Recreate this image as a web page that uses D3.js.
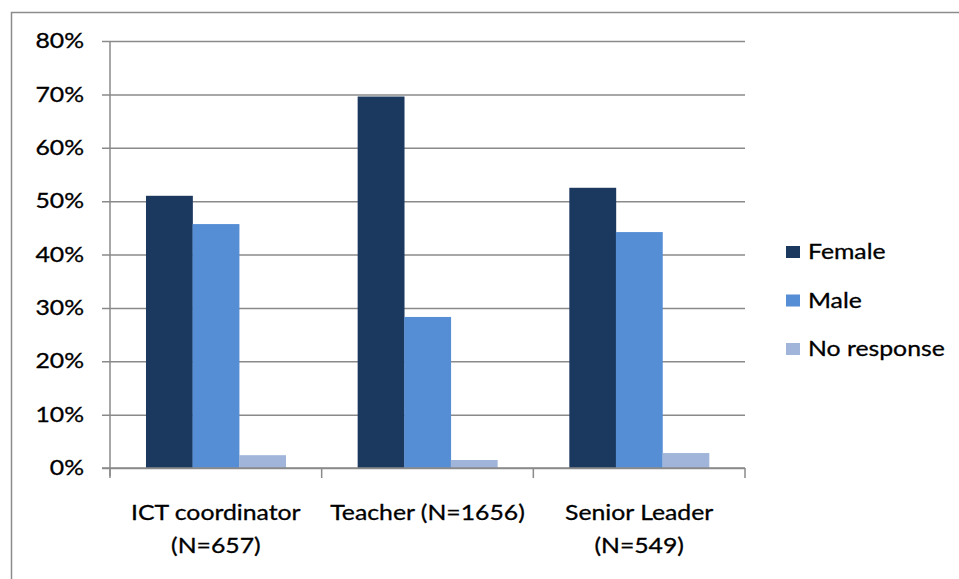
<!DOCTYPE html>
<html>
<head>
<meta charset="utf-8">
<script src="https://cdn.jsdelivr.net/npm/d3@7"></script>
<style>
  body { margin: 0; background: #fff; }
  svg text { font-family: Lato, 'Open Sans', sans-serif; fill: #000; stroke: #000; stroke-width: 0.3; }
</style>
</head>
<body>
<div id="chart"></div>
<script>
// data
const categories = [['ICT coordinator', '(N=657)'], ['Teacher (N=1656)'], ['Senior Leader', '(N=549)']]
const seriesNames = ['Female', 'Male', 'No response']
const female = [51.0, 69.6, 52.5]
const male = [45.7, 28.3, 44.2]
const noResponse = [2.4, 1.5, 2.8]
const yTicks = [0, 10, 20, 30, 40, 50, 60, 70, 80]
const colors = ['#1b385f', '#558ed5', '#a0b5d9']

const width = 959
const height = 579
const margin = { left: 110, right: 214, top: 41, bottom: 111 }
const stretch = 1.18 // the source picture is wider than tall text

const svg = d3.select('#chart')
  .append('svg')
  .attr('width', width)
  .attr('height', height)

// outer frame
svg.append('rect')
  .attr('x', 11.5)
  .attr('y', 12.5)
  .attr('width', 960)
  .attr('height', 600)
  .attr('fill', 'none')
  .attr('stroke', '#8c8c8c')
  .attr('stroke-width', 1.5)

const x0 = d3.scaleBand()
  .domain(d3.range(categories.length))
  .range([margin.left, width - margin.right])
  .paddingInner(0.34)
  .paddingOuter(0.17)

const x1 = d3.scaleBand()
  .domain(d3.range(seriesNames.length))
  .range([0, x0.bandwidth()])

const y = d3.scaleLinear()
  .domain([0, 80])
  .range([height - margin.bottom, margin.top])

// gridlines + y ticks
const grid = svg.append('g')
  .attr('transform', `translate(${margin.left},0)`)
  .call(d3.axisLeft(y).tickValues(yTicks).tickFormat(d => d + '%')
    .tickSize(-(width - margin.right - margin.left)).tickPadding(26))
grid.select('.domain').remove()
grid.selectAll('.tick line')
  .attr('stroke', '#8a8a8a')
  .attr('stroke-width', 1.5)
  .attr('x1', -8)
grid.selectAll('.tick text')
  .attr('font-size', 21)
  .attr('fill', '#000')
  .attr('x', -26 / stretch)
  .attr('transform', `scale(${stretch},1)`)

const table = categories.map((c, i) => [female[i], male[i], noResponse[i]])

svg.append('g')
  .selectAll('g')
  .data(table)
  .enter()
  .append('g')
  .attr('transform', (d, i) => `translate(${x0(i)},0)`)
  .selectAll('rect')
  .data(d => d)
  .enter()
  .append('rect')
  .attr('x', (d, j) => x1(j))
  .attr('width', x1.bandwidth() + 0.3)
  .attr('y', d => y(d))
  .attr('height', d => y(0) - y(d))
  .attr('fill', (d, j) => colors[j])

// y axis line
svg.append('line')
  .attr('x1', margin.left).attr('x2', margin.left)
  .attr('y1', y(80)).attr('y2', y(0) + 8)
  .attr('stroke', '#8a8a8a')
  .attr('stroke-width', 1.5)

// x axis with category ticks at band boundaries
const step = (width - margin.right - margin.left) / categories.length
const xAxis = svg.append('g')
svg.append('line')
  .attr('x1', margin.left - 8).attr('x2', width - margin.right)
  .attr('y1', y(0)).attr('y2', y(0))
  .attr('stroke', '#8a8a8a')
  .attr('stroke-width', 1.5)
xAxis.selectAll('line')
  .data(d3.range(categories.length + 1))
  .enter()
  .append('line')
  .attr('x1', d => margin.left + d * step)
  .attr('x2', d => margin.left + d * step)
  .attr('y1', y(0))
  .attr('y2', y(0) + 10)
  .attr('stroke', '#8a8a8a')
  .attr('stroke-width', 1.5)

xAxis.selectAll('g.cat')
  .data(categories)
  .enter()
  .append('g')
  .attr('class', 'cat')
  .attr('transform', (d, i) => `translate(${x0(i) + x0.bandwidth() / 2},520) scale(${stretch},1)`)
  .append('text')
  .attr('text-anchor', 'middle')
  .attr('font-size', 21)
  .selectAll('tspan')
  .data(d => d)
  .enter()
  .append('tspan')
  .attr('x', 0)
  .attr('dy', (d, k) => k === 0 ? 0 : 33)
  .text(d => d)

// legend
const legend = svg.append('g')
  .attr('transform', 'translate(786,251)')
const item = legend.selectAll('g')
  .data(seriesNames)
  .enter()
  .append('g')
  .attr('transform', (d, i) => `translate(0,${i * 48.5})`)
item.append('rect')
  .attr('x', 0).attr('y', -5)
  .attr('width', 14).attr('height', 12)
  .attr('fill', (d, i) => colors[i])
item.append('text')
  .attr('transform', `translate(22,8) scale(${stretch},1)`)
  .attr('font-size', 21)
  .text(d => d)
</script>
</body>
</html>
